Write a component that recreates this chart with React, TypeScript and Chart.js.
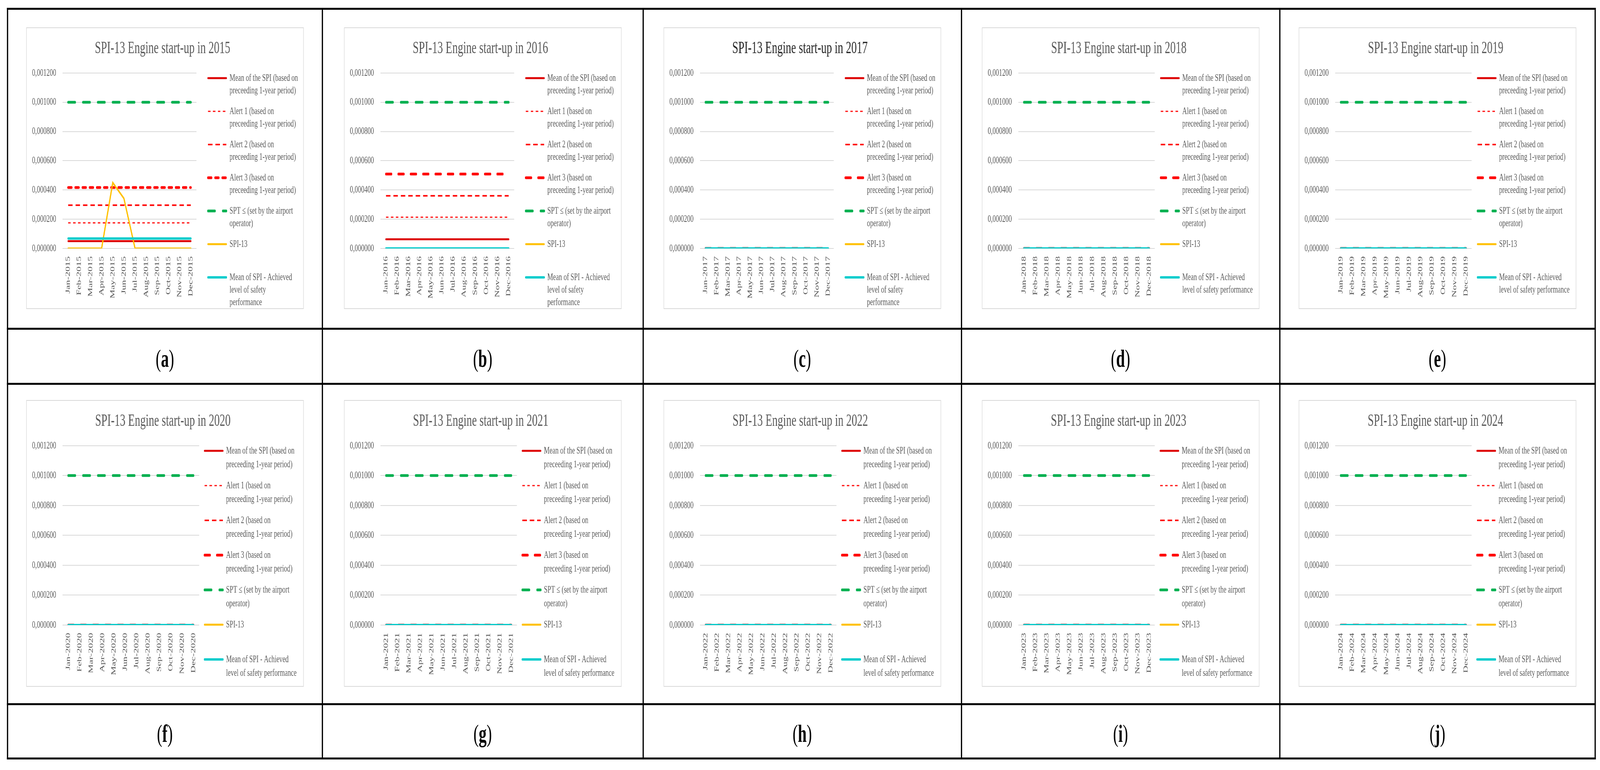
import React, { useEffect, useRef } from 'react';
import { Chart, registerables } from 'chart.js';

Chart.register(...registerables);

// ---------------- data ----------------
const MONTHS = ['Jan', 'Feb', 'Mar', 'Apr', 'May', 'Jun', 'Jul', 'Aug', 'Sep', 'Oct', 'Nov', 'Dec'];
const YEARS = [2015, 2016, 2017, 2018, 2019, 2020, 2021, 2022, 2023, 2024];
const PANEL_LETTERS = ['a', 'b', 'c', 'd', 'e', 'f', 'g', 'h', 'i', 'j'];

// one value per year (horizontal reference lines)
const MEAN_SPI = [0.00005, 0.000063, 0, 0, 0, 0, 0, 0, 0, 0];
const ALERT_1 = [0.000175, 0.000214, 0, 0, 0, 0, 0, 0, 0, 0];
const ALERT_2 = [0.000296, 0.00036, 0, 0, 0, 0, 0, 0, 0, 0];
const ALERT_3 = [0.000417, 0.000509, 0, 0, 0, 0, 0, 0, 0, 0];
const SPT = [0.001, 0.001, 0.001, 0.001, 0.001, 0.001, 0.001, 0.001, 0.001, 0.001];
const ACHIEVED_MEAN = [0.000068, 0, 0, 0, 0, 0, 0, 0, 0, 0];

// monthly SPI-13 values per year
const SPI_13_2015 = [0, 0, 0, 0, 0.00045, 0.000342, 0, 0, 0, 0, 0, 0];
const SPI_13_2016 = [0, 0, 0, 0, 0, 0, 0, 0, 0, 0, 0, 0];
const SPI_13_2017 = [0, 0, 0, 0, 0, 0, 0, 0, 0, 0, 0, 0];
const SPI_13_2018 = [0, 0, 0, 0, 0, 0, 0, 0, 0, 0, 0, 0];
const SPI_13_2019 = [0, 0, 0, 0, 0, 0, 0, 0, 0, 0, 0, 0];
const SPI_13_2020 = [0, 0, 0, 0, 0, 0, 0, 0, 0, 0, 0, 0];
const SPI_13_2021 = [0, 0, 0, 0, 0, 0, 0, 0, 0, 0, 0, 0];
const SPI_13_2022 = [0, 0, 0, 0, 0, 0, 0, 0, 0, 0, 0, 0];
const SPI_13_2023 = [0, 0, 0, 0, 0, 0, 0, 0, 0, 0, 0, 0];
const SPI_13_2024 = [0, 0, 0, 0, 0, 0, 0, 0, 0, 0, 0, 0];
const SPI_13 = [SPI_13_2015, SPI_13_2016, SPI_13_2017, SPI_13_2018, SPI_13_2019,
  SPI_13_2020, SPI_13_2021, SPI_13_2022, SPI_13_2023, SPI_13_2024];

const Y_MIN = 0;
const Y_MAX = 0.0012;
const Y_STEP = 0.0002;

const LEGEND_TEXT = [
  ['Mean of the SPI (based on', 'preceeding 1-year period)'],
  ['Alert 1 (based on', 'preceeding 1-year period)'],
  ['Alert 2 (based on', 'preceeding 1-year period)'],
  ['Alert 3 (based on', 'preceeding 1-year period)'],
  ['SPT \u2264 (set by the airport', 'operator)'],
  ['SPI-13', ''],
];
const LAST_LABEL_3 = ['Mean of SPI - Achieved', 'level of safety', 'performance'];
const LAST_LABEL_2 = ['Mean of SPI - Achieved', 'level of safety performance'];
const THREE_LINE_LAST = [true, true, true, false, false, false, false, false, false, false];

// ---------------- layout ----------------
const PAGE_W = 6469;
const PAGE_H = 1971;
const COL_X = [30, 1303, 2600, 3887, 5174, 6449];
const ROW_Y = [22, 841, 982, 1802, 1941];
const FRAME_W = 1122;
const CANVAS_W = FRAME_W - 4;
const CANVAS_H = 770;
const SERIF = "'Liberation Serif', 'Times New Roman', serif";
const GREY = '#595959';
const LEGEND_FONT = 26;
const LEGEND_LINE_W = 74;

const ROWS = [
  { frameTop: 70, frameH: 721, lineH: 32, pad: 21, legTitleH: 94, plotBottom: 564 },
  { frameTop: 1024, frameH: 734, lineH: 35, pad: 19, legTitleH: 96, plotBottom: 574 },
];

function fmt(v: number) {
  return Number(v).toFixed(6).replace('.', ',');
}

let measureCtx: CanvasRenderingContext2D | null = null;
function legendTextWidth(items: string[][]) {
  if (!measureCtx) measureCtx = document.createElement('canvas').getContext('2d');
  const ctx = measureCtx as CanvasRenderingContext2D;
  ctx.font = `normal ${LEGEND_FONT}px ${SERIF}`;
  let w = 0;
  items.forEach((lines) => {
    const longest = lines.reduce((a, b) => (a.length > b.length ? a : b));
    w = Math.max(w, ctx.measureText(longest).width);
  });
  return w;
}

function Panel({ idx }: { idx: number }) {
  const ref = useRef<HTMLCanvasElement>(null);
  const row = idx < 5 ? 0 : 1;
  const col = idx % 5;
  const R = ROWS[row];
  const three = THREE_LINE_LAST[idx];
  const legendLeft = three ? 712 : 700;
  const dummyW = three ? 26 : 3;

  useEffect(() => {
    const year = YEARS[idx];
    const labels = MONTHS.map((m) => `${m}-${year}`);
    const flat = (v: number) => labels.map(() => v);
    const legendTexts = [...LEGEND_TEXT, three ? LAST_LABEL_3 : LAST_LABEL_2];
    const a3Dash = idx === 0 ? [14, 15] : [22, 28];
    const legendW = R.pad + LEGEND_LINE_W + LEGEND_FONT / 2 + legendTextWidth(legendTexts) + 10;
    const padRight = Math.max(0, CANVAS_W - legendLeft - legendW);

    const base = { pointRadius: 0, pointHoverRadius: 0, fill: false, tension: 0 };
    const datasets: any[] = [
      { ...base, label: 'Mean of the SPI', data: flat(MEAN_SPI[idx]), borderColor: '#DD0000', backgroundColor: '#DD0000', borderWidth: 5, borderDash: [], borderCapStyle: 'round', order: 2 },
      { ...base, label: 'Alert 1', data: flat(ALERT_1[idx]), borderColor: '#FF0000', backgroundColor: '#FF0000', borderWidth: 3, borderDash: [10, 10], borderCapStyle: 'butt', order: 3 },
      { ...base, label: 'Alert 2', data: flat(ALERT_2[idx]), borderColor: '#FF0000', backgroundColor: '#FF0000', borderWidth: 4, borderDash: [18, 12], borderCapStyle: 'butt', order: 3 },
      { ...base, label: 'Alert 3', data: flat(ALERT_3[idx]), borderColor: '#FF0000', backgroundColor: '#FF0000', borderWidth: 7, borderDash: a3Dash, borderCapStyle: 'round', order: 3 },
      { ...base, label: 'SPT', data: flat(SPT[idx]), borderColor: '#00B050', backgroundColor: '#00B050', borderWidth: 7, borderDash: [28, 32], borderCapStyle: 'round', order: 3 },
      { ...base, label: 'SPI-13', data: SPI_13[idx], borderColor: '#FFC000', backgroundColor: '#FFC000', borderWidth: 5, borderDash: [], borderCapStyle: 'round', order: 1 },
      { ...base, label: 'Mean of SPI', data: flat(ACHIEVED_MEAN[idx]), borderColor: '#00CCCC', backgroundColor: '#00CCCC', borderWidth: 6, borderDash: [], borderCapStyle: 'round', order: 0 },
    ];

    const chart = new Chart(ref.current as HTMLCanvasElement, {
      type: 'line',
      data: { labels, datasets },
      options: {
        responsive: false,
        animation: false,
        events: [],
        layout: { padding: { left: 0, top: 0, bottom: 0, right: padRight } },
        scales: {
          x: {
            type: 'category',
            offset: true,
            grid: { display: false, drawTicks: false },
            border: { display: false },
            ticks: {
              autoSkip: false, minRotation: 90, maxRotation: 90, padding: 20,
              color: GREY, font: { family: SERIF, size: 26 },
            },
            afterFit: (s: any) => { s.height = CANVAS_H - R.plotBottom; },
          },
          y: {
            min: Y_MIN, max: Y_MAX,
            grid: { color: '#d9d9d9', lineWidth: 2, drawTicks: false },
            border: { display: false },
            ticks: {
              stepSize: Y_STEP, padding: 26, color: GREY, font: { family: SERIF, size: 26 },
              callback: (v: any) => fmt(v),
            },
            afterFit: (s: any) => { s.width = 145; },
          },
          y2: {
            position: 'right',
            display: true,
            grid: { display: false, drawTicks: false },
            border: { display: false },
            ticks: { display: false },
            afterFit: (s: any) => { s.width = dummyW; },
          },
        },
        plugins: {
          tooltip: { enabled: false },
          title: {
            display: true,
            text: `SPI-13 Engine start-up in ${year}`,
            color: idx === 2 ? '#262626' : GREY,
            font: { family: SERIF, size: 44, weight: 'normal', lineHeight: 1.2 },
            padding: { top: 26, bottom: 36 },
          },
          legend: {
            display: true,
            position: 'right',
            align: 'start',
            maxWidth: legendW + 30,
            title: { display: true, text: ' ', font: { size: 10, lineHeight: 1.2 }, padding: { top: R.legTitleH - 12, bottom: 0 } },
            labels: {
              usePointStyle: true,
              pointStyleWidth: LEGEND_LINE_W,
              padding: R.pad,
              color: GREY,
              font: { family: SERIF, size: LEGEND_FONT, lineHeight: R.lineH / LEGEND_FONT },
              generateLabels: (ch: any) => ch.data.datasets.map((ds: any, i: number) => ({
                text: legendTexts[i],
                fillStyle: ds.borderColor,
                strokeStyle: ds.borderColor,
                lineWidth: ds.borderWidth,
                lineDash: ds.borderDash,
                lineDashOffset: 0,
                lineCap: ds.borderCapStyle,
                pointStyle: 'line',
                hidden: false,
                datasetIndex: i,
                fontColor: GREY,
              })),
            },
          },
        },
      } as any,
    });
    return () => chart.destroy();
  }, []);

  const cellL = COL_X[col];
  const cellW = COL_X[col + 1] - COL_X[col];
  const frameL = cellL + (cellW - FRAME_W) / 2;
  const labTop = ROW_Y[row * 2 + 1];
  const labH = ROW_Y[row * 2 + 2] - labTop;

  return (
    <>
      <div style={{ position: 'absolute', left: frameL, top: R.frameTop, width: FRAME_W, height: R.frameH, boxSizing: 'border-box', border: '2px solid #d9d9d9', background: '#fff' }} />
      <canvas ref={ref} width={CANVAS_W} height={CANVAS_H}
        style={{ position: 'absolute', left: frameL + 2, top: R.frameTop + 2, width: CANVAS_W, height: CANVAS_H }} />
      <div style={{ position: 'absolute', left: cellL, top: labTop, width: cellW, height: labH, boxSizing: 'border-box', paddingTop: 12, display: 'flex', alignItems: 'center', justifyContent: 'center', fontFamily: SERIF, fontSize: 64, color: '#000' }}>
        <span>(<b>{PANEL_LETTERS[idx]}</b>)</span>
      </div>
    </>
  );
}

export default function App() {
  useEffect(() => {
    document.body.style.overflow = 'hidden';
  }, []);
  // the page is designed at 6469 x 1971; fit it into the actual viewport
  const sx = Math.min(1, (typeof window !== 'undefined' ? window.innerWidth : PAGE_W) / PAGE_W);
  const sy = Math.min(1, (typeof window !== 'undefined' ? window.innerHeight : PAGE_H) / PAGE_H);

  const lines: React.ReactNode[] = [];
  const top = ROW_Y[0] - 2.5;
  const bottom = ROW_Y[ROW_Y.length - 1] + 2.5;
  const left = COL_X[0] - 2.5;
  const right = COL_X[COL_X.length - 1] + 2.5;
  COL_X.forEach((x, i) => lines.push(
    <div key={'v' + i} style={{ position: 'absolute', left: x - 2.5, top, width: 5, height: bottom - top, background: '#000' }} />
  ));
  ROW_Y.forEach((y, i) => lines.push(
    <div key={'h' + i} style={{ position: 'absolute', left, top: y - 2.5, width: right - left, height: 5, background: '#000' }} />
  ));
  return (
    <div style={{ position: 'absolute', left: 0, top: 0, width: PAGE_W, height: PAGE_H, background: '#fff', overflow: 'hidden', transform: `scale(${sx}, ${sy})`, transformOrigin: '0 0' }}>
      {YEARS.map((_, i) => <Panel key={i} idx={i} />)}
      {lines}
    </div>
  );
}
